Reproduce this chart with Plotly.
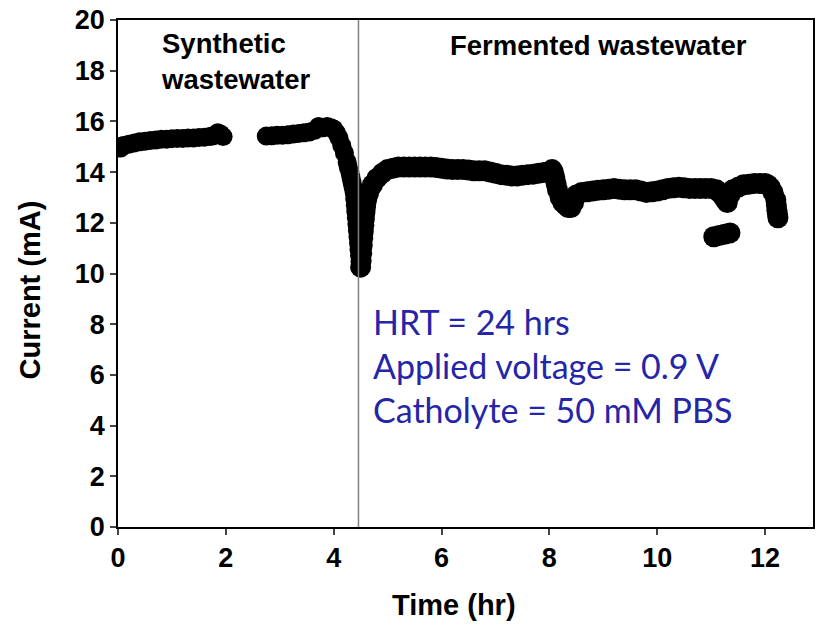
import plotly.graph_objects as go

# Synthetic wastewater phase (hr, mA)
time_synthetic = [0.0, 0.05, 0.1, 0.2, 0.3, 0.4, 0.5, 0.6, 0.7, 0.8, 0.9, 1.0, 1.1, 1.2, 1.3, 1.4,
                  1.5, 1.6, 1.7, 1.75, 1.8, 1.85, 1.9, 1.95,
                  2.75, 2.85, 2.95, 3.05, 3.15, 3.25, 3.35, 3.45, 3.55, 3.65, 3.72, 3.8,
                  3.88, 3.95, 4.0, 4.05, 4.1, 4.15, 4.2, 4.25, 4.27, 4.3, 4.32, 4.34, 4.36, 4.38,
                  4.39, 4.40, 4.41, 4.42, 4.43, 4.44, 4.45, 4.46, 4.47, 4.48, 4.49]
current_synthetic = [15.0, 14.95, 15.05, 15.1, 15.15, 15.2, 15.22, 15.25, 15.27, 15.3, 15.3, 15.32, 15.33,
                     15.33, 15.35, 15.35, 15.36, 15.37, 15.4, 15.42, 15.45, 15.55, 15.5, 15.4,
                     15.42, 15.43, 15.45, 15.45, 15.47, 15.5, 15.52, 15.55, 15.58, 15.65, 15.8,
                     15.75, 15.8, 15.75, 15.7, 15.55, 15.35, 15.05, 14.75, 14.4, 14.2, 14.0, 13.8, 13.6, 13.4, 13.2,
                     12.95, 12.7, 12.45, 12.2, 11.95, 11.7, 11.45, 11.2, 10.95, 10.7, 10.45]

# Fermented wastewater phase (hr, mA)
time_fermented = [4.5, 4.51, 4.52, 4.53, 4.54, 4.55, 4.56, 4.57, 4.58, 4.59, 4.6, 4.62, 4.65, 4.72, 4.8, 4.9, 5.0,
                  5.1, 5.2, 5.3, 5.4, 5.5, 5.6, 5.7, 5.8, 5.9, 6.0, 6.1, 6.2, 6.3, 6.4, 6.5, 6.6,
                  6.7, 6.8, 6.9, 7.0, 7.1, 7.2, 7.3, 7.4, 7.5, 7.6, 7.7, 7.8, 7.9, 8.0,
                  8.05, 8.075, 8.1, 8.125, 8.15, 8.2, 8.25, 8.3, 8.35, 8.4, 8.45, 8.5, 8.6, 8.7, 8.8, 8.9, 9.0,
                  9.1, 9.2, 9.3, 9.4, 9.5, 9.6, 9.7, 9.8, 9.9, 10.0, 10.1, 10.2, 10.3, 10.4, 10.5,
                  10.6, 10.7, 10.8, 10.9, 11.0, 11.1, 11.15, 11.2, 11.25, 11.3, 11.35, 11.4, 11.5,
                  11.6, 11.7, 11.8, 11.9, 12.0, 12.05, 12.1, 12.15, 12.2, 12.21, 12.22, 12.23, 12.24,
                  11.05, 11.15, 11.25, 11.35]
current_fermented = [10.25, 10.5, 10.8, 11.1, 11.4, 11.65, 11.9, 12.15, 12.4, 12.6, 12.8, 13.0, 13.2, 13.5, 13.75, 13.95, 14.1,
                     14.15, 14.2, 14.2, 14.2, 14.2, 14.2, 14.2, 14.2, 14.18, 14.15, 14.12, 14.1, 14.1, 14.1, 14.08, 14.05,
                     14.05, 14.05, 14.0, 13.95, 13.9, 13.88, 13.85, 13.85, 13.88, 13.9, 13.92, 13.95, 13.98, 14.0,
                     14.1, 14.0, 13.8, 13.55, 13.3, 13.0, 12.8, 12.7, 12.6, 12.6, 12.8, 13.1, 13.2, 13.22, 13.25, 13.28, 13.3,
                     13.32, 13.35, 13.32, 13.3, 13.3, 13.3, 13.25, 13.2, 13.22, 13.25, 13.3, 13.35, 13.38, 13.4, 13.38,
                     13.35, 13.35, 13.35, 13.35, 13.35, 13.3, 13.2, 13.1, 12.95, 12.8, 13.1, 13.3, 13.4,
                     13.5, 13.52, 13.55, 13.55, 13.55, 13.5, 13.4, 13.2, 12.9, 12.7, 12.5, 12.35, 12.2,
                     11.45, 11.5, 11.55, 11.6]

switch_time = 4.46
x_ticks = [0, 2, 4, 6, 8, 10, 12]
y_ticks = [0, 2, 4, 6, 8, 10, 12, 14, 16, 18, 20]

fig = go.Figure()
fig.add_trace(go.Scatter(x=time_synthetic, y=current_synthetic, mode="markers",
                         marker=dict(color="black", size=19), showlegend=False))
fig.add_trace(go.Scatter(x=time_fermented, y=current_fermented, mode="markers",
                         marker=dict(color="black", size=21), showlegend=False))

fig.add_shape(type="line", xref="x", yref="paper", x0=switch_time, x1=switch_time, y0=0, y1=1,
              line=dict(color="#808080", width=1.5))

label_font = dict(family="Liberation Sans, Arial", size=27.5, color="black", weight="bold")
fig.add_annotation(x=0.76, y=18.38, xref="x", yref="y", text="Synthetic<br>wastewater",
                   showarrow=False, xanchor="left", yanchor="middle", align="left", font=label_font)
fig.add_annotation(x=8.91, y=19.0, xref="x", yref="y", text="Fermented wastewater",
                   showarrow=False, xanchor="center", yanchor="middle", font=label_font)
fig.add_annotation(x=4.7, y=6.39, xref="x", yref="y",
                   text="HRT = 24 hrs<br>Applied voltage = 0.9 V<br>Catholyte = 50 mM PBS",
                   showarrow=False, xanchor="left", yanchor="middle", align="left",
                   font=dict(family="Lato, Open Sans", size=34, color="#2525A8"))

tick_font = dict(family="Liberation Sans, Arial", size=27, color="black", weight="bold")
title_font = dict(family="Liberation Sans, Arial", size=29, color="black", weight="bold")
fig.add_annotation(x=0.4835, y=-0.154, xref="paper", yref="paper", text="Time (hr)",
                   showarrow=False, xanchor="center", yanchor="middle", font=title_font)
fig.add_annotation(x=-0.1263, y=0.467, xref="paper", yref="paper", text="Current (mA)",
                   textangle=-90, showarrow=False, xanchor="center", yanchor="middle", font=title_font)

fig.update_xaxes(range=[0, 12.89], tickvals=x_ticks, ticks="outside", ticklen=6, tickwidth=1.5,
                 showline=True, linecolor="black", linewidth=1.5, mirror=True,
                 showgrid=False, zeroline=False, tickfont=tick_font)
fig.update_yaxes(range=[0, 20], tickvals=y_ticks, ticks="outside", ticklen=6, tickwidth=1.5,
                 showline=True, linecolor="black", linewidth=1.5, mirror=True,
                 showgrid=False, zeroline=False, tickfont=tick_font)

fig.update_layout(width=817, height=625, margin=dict(l=118, r=2, t=20, b=98),
                  plot_bgcolor="white", paper_bgcolor="white")
fig.write_html("out.html")
